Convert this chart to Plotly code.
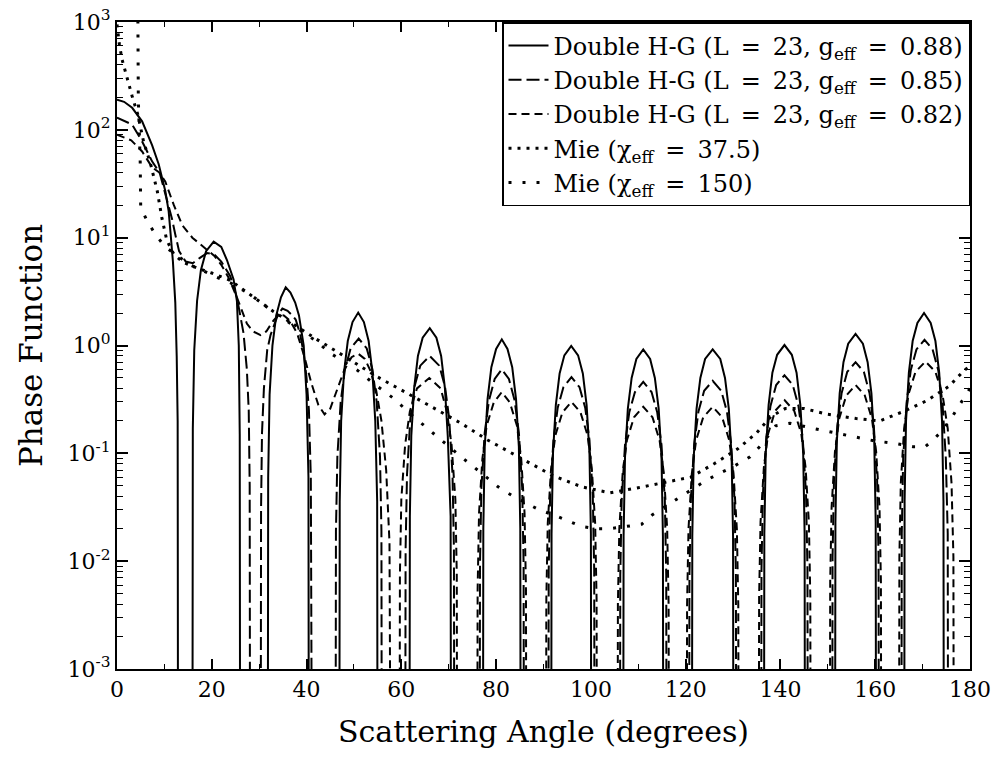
import plotly.graph_objects as go

Z = 1e-5  # value standing for a zero / negative value (below the axis range)

# ---- Double H-G, L = 23, g_eff = 0.88 (solid) ----
hg88_x = [0, 1.5, 3.2, 5.3, 7.4, 8.8, 10.2, 10.9, 11.3, 11.8, 12.3, 12.6, 12.8, 12.9,
          15.9, 16.0, 16.3, 16.9, 17.7, 18.8, 20.4, 22.0, 23.2, 24.6, 25.3, 25.7, 25.9, 26.0,
          31.8, 31.9, 32.2, 32.8, 33.6, 34.6, 35.6, 36.6, 37.6, 38.4, 39.4, 40.0, 40.4, 40.5,
          46.9, 47.0, 47.3, 47.9, 48.7, 49.7, 50.9, 52.1, 53.1, 53.9, 54.5, 54.9, 55.0,
          61.7, 61.8, 62.1, 62.7, 63.5, 64.5, 66.0, 67.4, 68.4, 69.2, 69.8, 70.4, 70.5,
          77.2, 77.3, 77.6, 78.2, 79.0, 80.0, 81.2, 82.4, 83.4, 84.2, 84.8, 85.1, 85.2,
          91.6, 91.7, 92.0, 92.6, 93.4, 94.4, 95.85, 97.3, 98.3, 99.1, 99.7, 100.0, 100.1,
          106.8, 106.9, 107.2, 107.8, 108.6, 109.6, 111.05, 112.5, 113.5, 114.3, 114.9, 115.2, 115.3,
          121.3, 121.4, 121.7, 122.3, 123.1, 124.1, 125.7, 127.3, 128.3, 129.1, 129.7, 130.0, 130.1,
          136.5, 136.6, 136.9, 137.5, 138.3, 139.3, 140.85, 142.4, 143.4, 144.2, 144.8, 145.1, 145.2,
          151.5, 151.6, 151.9, 152.5, 153.3, 154.3, 155.85, 157.4, 158.4, 159.2, 159.8, 160.1, 160.2,
          166.1, 166.2, 166.5, 167.1, 167.9, 168.9, 170.3, 171.7, 172.7, 173.5, 174.1, 174.4, 174.5]
hg88_y = [190, 182, 160, 120, 72, 48, 27, 17.6, 11, 6, 2.5, 0.8, 0.2, Z,
          Z, 0.17, 0.9, 2.6, 5.0, 7.5, 9.2, 8.2, 6.2, 4.1, 2.6, 1.0, 0.15, Z,
          Z, 0.06, 0.35, 1.0, 1.9, 2.8, 3.47, 3.1, 2.5, 1.9, 1.0, 0.35, 0.06, Z,
          Z, 0.036, 0.2, 0.56, 1.1, 1.65, 2.02, 1.65, 1.1, 0.56, 0.2, 0.036, Z,
          Z, 0.026, 0.145, 0.4, 0.8, 1.18, 1.45, 1.18, 0.8, 0.4, 0.145, 0.026, Z,
          Z, 0.02, 0.115, 0.32, 0.63, 0.93, 1.14, 0.93, 0.63, 0.32, 0.115, 0.02, Z,
          Z, 0.018, 0.1, 0.28, 0.55, 0.81, 0.99, 0.81, 0.55, 0.28, 0.1, 0.018, Z,
          Z, 0.017, 0.092, 0.26, 0.5, 0.75, 0.92, 0.75, 0.5, 0.26, 0.092, 0.017, Z,
          Z, 0.017, 0.092, 0.26, 0.5, 0.75, 0.92, 0.75, 0.5, 0.26, 0.092, 0.017, Z,
          Z, 0.018, 0.1, 0.28, 0.56, 0.82, 1.01, 0.82, 0.56, 0.28, 0.1, 0.018, Z,
          Z, 0.023, 0.128, 0.36, 0.7, 1.04, 1.28, 1.04, 0.7, 0.36, 0.128, 0.023, Z,
          Z, 0.036, 0.2, 0.56, 1.1, 1.62, 2.0, 1.62, 1.1, 0.56, 0.2, 0.036, Z]

# ---- Double H-G, L = 23, g_eff = 0.85 (long dash) ----
hg85_x = [0, 3.2, 5.3, 7.4, 9.0, 10.9, 11.6, 12.3, 13.1, 14.5, 16.0, 17.5, 19.0, 20.5, 22.0, 23.9, 25.3, 26.7, 27.4, 27.8, 28.0, 28.1,
          30.3, 30.4, 30.6, 31.0, 31.7, 32.4, 33.1, 34.0, 34.9, 36.0, 37.0, 37.7, 38.6, 39.4, 40.0, 40.5, 40.9, 41.2,
          46.1, 46.2, 46.5, 47.2, 48.1, 49.3, 51.0, 52.7, 53.9, 54.8, 55.5, 55.8, 55.9,
          60.8, 60.9, 61.2, 61.9, 62.8, 64.0, 66.0, 68.0, 69.2, 70.1, 70.8, 71.1, 71.2,
          76.5, 76.6, 76.9, 77.6, 78.5, 79.7, 81.2, 82.7, 83.9, 84.8, 85.5, 85.8, 85.9,
          91.0, 91.1, 91.4, 92.1, 93.0, 94.2, 95.9, 97.6, 98.8, 99.7, 100.4, 100.7, 100.8,
          106.1, 106.2, 106.5, 107.2, 108.1, 109.3, 111.05, 112.8, 114.0, 114.9, 115.6, 115.9, 116.0,
          120.7, 120.8, 121.1, 121.8, 122.7, 123.9, 125.7, 127.5, 128.7, 129.6, 130.3, 130.6, 130.7,
          135.9, 136.0, 136.3, 137.0, 137.9, 139.1, 140.85, 142.6, 143.8, 144.7, 145.4, 145.7, 145.8,
          150.9, 151.0, 151.3, 152.0, 152.9, 154.1, 155.85, 157.6, 158.8, 159.7, 160.4, 160.7, 160.8,
          165.5, 165.6, 165.9, 166.6, 167.5, 168.7, 170.4, 172.1, 173.3, 174.2, 174.9, 175.3, 175.4]
hg85_y = [130, 112, 78, 51, 40, 20, 15, 10.7, 7.5, 6.0, 5.8, 6.5, 7.2, 7.0, 6.0, 4.4, 2.8, 1.3, 0.6, 0.25, 0.05, Z,
          Z, 0.03, 0.155, 0.4, 0.91, 1.25, 1.55, 1.95, 2.2, 2.1, 1.9, 1.74, 1.3, 0.85, 0.5, 0.25, 0.06, Z,
          Z, 0.019, 0.093, 0.3, 0.6, 0.94, 1.16, 0.94, 0.6, 0.3, 0.093, 0.019, Z,
          Z, 0.013, 0.064, 0.21, 0.42, 0.65, 0.80, 0.65, 0.42, 0.21, 0.064, 0.013, Z,
          Z, 0.0096, 0.048, 0.156, 0.31, 0.49, 0.60, 0.49, 0.31, 0.156, 0.048, 0.0096, Z,
          Z, 0.0082, 0.041, 0.133, 0.265, 0.41, 0.51, 0.41, 0.265, 0.133, 0.041, 0.0082, Z,
          Z, 0.0074, 0.037, 0.12, 0.24, 0.37, 0.46, 0.37, 0.24, 0.12, 0.037, 0.0074, Z,
          Z, 0.0075, 0.038, 0.122, 0.245, 0.38, 0.47, 0.38, 0.245, 0.122, 0.038, 0.0075, Z,
          Z, 0.0085, 0.042, 0.138, 0.275, 0.43, 0.53, 0.43, 0.275, 0.138, 0.042, 0.0085, Z,
          Z, 0.011, 0.056, 0.18, 0.36, 0.57, 0.70, 0.57, 0.36, 0.18, 0.056, 0.011, Z,
          Z, 0.018, 0.09, 0.29, 0.59, 0.92, 1.13, 0.92, 0.59, 0.29, 0.09, 0.018, Z]

# ---- Double H-G, L = 23, g_eff = 0.82 (medium dash) ----
hg82_x = [0, 3.0, 5.3, 7.4, 9.0, 10.2, 12.0, 13.8, 15.9, 18.7, 20.5, 22.0, 23.5, 25.3, 27.4, 28.7, 30.3, 31.5, 33.0, 34.1, 35.2,
          36.5, 38.0, 39.5, 41.0, 42.5, 43.8, 45.0, 46.5, 48.0, 49.5, 50.9, 52.3, 53.5, 54.7, 55.8, 56.8, 57.5, 57.8,
          59.6, 59.7, 60.0, 60.8, 61.8, 63.3, 65.9, 68.3, 69.6, 70.6, 71.4, 71.7, 71.8,
          76.0, 76.1, 76.4, 77.1, 78.0, 79.5, 81.2, 82.9, 84.4, 85.3, 86.0, 86.3, 86.4,
          90.5, 90.6, 90.9, 91.6, 92.5, 94.0, 95.9, 97.8, 99.3, 100.2, 100.9, 101.2, 101.3,
          105.6, 105.7, 106.0, 106.7, 107.6, 109.1, 111.05, 113.0, 114.5, 115.4, 116.1, 116.4, 116.5,
          120.2, 120.3, 120.6, 121.3, 122.2, 123.7, 125.7, 127.7, 129.2, 130.1, 130.8, 131.1, 131.2,
          135.4, 135.5, 135.8, 136.5, 137.4, 138.9, 140.9, 142.9, 144.4, 145.3, 146.0, 146.3, 146.4,
          150.4, 150.5, 150.8, 151.5, 152.4, 153.9, 155.85, 157.8, 159.3, 160.2, 160.9, 161.2, 161.3,
          165.0, 165.1, 165.4, 166.1, 167.0, 168.5, 170.6, 172.7, 174.2, 175.3, 176.1, 176.5, 176.6]
hg82_y = [90, 80, 63, 45, 40, 33, 20, 13, 10, 8.0, 6.8, 5.6, 4.3, 2.8, 1.6, 1.35, 1.25, 1.35, 1.7, 1.92, 1.9,
          1.7, 1.3, 0.8, 0.45, 0.28, 0.23, 0.26, 0.4, 0.6, 0.78, 0.84, 0.75, 0.58, 0.38, 0.2, 0.07, 0.015, Z,
          Z, 0.0075, 0.0375, 0.12, 0.245, 0.4, 0.50, 0.4, 0.245, 0.12, 0.0375, 0.0075, Z,
          Z, 0.0055, 0.028, 0.089, 0.18, 0.296, 0.37, 0.296, 0.18, 0.089, 0.028, 0.0055, Z,
          Z, 0.0045, 0.0225, 0.072, 0.147, 0.24, 0.30, 0.24, 0.147, 0.072, 0.0225, 0.0045, Z,
          Z, 0.004, 0.02, 0.065, 0.132, 0.216, 0.27, 0.216, 0.132, 0.065, 0.02, 0.004, Z,
          Z, 0.004, 0.02, 0.065, 0.132, 0.216, 0.27, 0.216, 0.132, 0.065, 0.02, 0.004, Z,
          Z, 0.0047, 0.023, 0.074, 0.152, 0.248, 0.31, 0.248, 0.152, 0.074, 0.023, 0.0047, Z,
          Z, 0.0065, 0.032, 0.103, 0.21, 0.344, 0.43, 0.344, 0.21, 0.103, 0.032, 0.0065, Z,
          Z, 0.011, 0.053, 0.17, 0.35, 0.57, 0.71, 0.57, 0.35, 0.17, 0.053, 0.011, Z]

# ---- Mie, chi_eff = 37.5 (dense dots) ----
mie37_x = [0, 0.5, 1.06, 2.1, 3.2, 4.4, 5.6, 7.1, 8.5, 9.5, 10.5, 12, 14, 17, 20, 24, 28, 33, 38, 42, 46, 50, 55,
           61.3, 67.7, 72.6, 78.2, 83.9, 89.5, 92, 98, 104, 110, 115, 121, 126, 131, 135, 138, 141, 145, 150, 156,
           161, 166, 171, 175.6, 178.8, 180]
mie37_y = [950, 620, 450, 300, 205, 138, 78, 48, 27, 15, 9.5, 7.0, 5.9, 5.2, 4.7, 4.0, 3.0, 2.07, 1.5, 1.15, 0.9, 0.7, 0.51,
           0.36, 0.25, 0.19, 0.133, 0.097, 0.070, 0.062, 0.049, 0.043, 0.048, 0.053, 0.060, 0.08, 0.11, 0.155, 0.22, 0.26, 0.26, 0.23, 0.21,
           0.2, 0.245, 0.31, 0.42, 0.59, 0.64]

# ---- Mie, chi_eff = 150 (sparse dots) ----
mie150_x = [0, 4.2, 4.4, 4.5, 4.9, 5.0, 6.3, 8.1, 10.2, 12.6, 15.4, 18.3, 21, 24, 28, 33, 38, 42, 45, 50.7, 54, 58.5,
            62, 65.5, 69, 73, 77, 80.4, 83.2, 86, 89, 92, 95, 98, 101, 104, 107.5, 110.7, 113, 115.6, 118.4, 121.3,
            124, 127, 130, 133.6, 136, 139, 142, 147, 154, 160, 164, 168, 170.5, 172, 174, 176, 178.8, 180]
mie150_y = [10000, 5000, 1200, 190, 50, 19, 14.5, 10.7, 8.2, 6.9, 5.6, 4.9, 4.3, 3.8, 3.0, 2.05, 1.45, 1.1, 0.85, 0.59, 0.45, 0.32,
            0.23, 0.17, 0.125, 0.09, 0.065, 0.049, 0.041, 0.035, 0.030, 0.027, 0.024, 0.021, 0.020, 0.020, 0.021, 0.022, 0.027, 0.032, 0.038, 0.046,
            0.055, 0.065, 0.075, 0.093, 0.12, 0.18, 0.19, 0.17, 0.147, 0.13, 0.124, 0.115, 0.115, 0.13, 0.16, 0.21, 0.33, 0.4]

ES = "\u2002"  # en space, for the wide spacing around "=" in the legend
names = [f"Double H-G (L{ES}={ES}23, g<sub>eff</sub>{ES}={ES}0.88)",
         f"Double H-G (L{ES}={ES}23, g<sub>eff</sub>{ES}={ES}0.85)",
         f"Double H-G (L{ES}={ES}23, g<sub>eff</sub>{ES}={ES}0.82)",
         f"Mie (χ<sub>eff</sub>{ES}={ES}37.5)",
         f"Mie (χ<sub>eff</sub>{ES}={ES}150)"]

x_ticks = [0, 20, 40, 60, 80, 100, 120, 140, 160, 180]
y_ticks = [1e-3, 1e-2, 1e-1, 1e0, 1e1, 1e2, 1e3]
y_ticktext = ["10<sup>-3</sup>", "10<sup>-2</sup>", "10<sup>-1</sup>", "10<sup>0</sup>",
              "10<sup>1</sup>", "10<sup>2</sup>", "10<sup>3</sup>"]

FONT = "DejaVu Serif"
fig = go.Figure()
series = [(hg88_x, hg88_y, dict(color="black", width=2, dash="solid")),
          (hg85_x, hg85_y, dict(color="black", width=2, dash="13px,5px")),
          (hg82_x, hg82_y, dict(color="black", width=2, dash="8px,5px")),
          (mie37_x, mie37_y, dict(color="black", width=3, dash="3px,6px")),
          (mie150_x, mie150_y, dict(color="black", width=3, dash="3px,11px"))]
for (xs, ys, ln), nm in zip(series, names):
    fig.add_trace(go.Scatter(x=xs, y=ys, mode="lines", line=ln, name=nm))

fig.update_layout(
    width=996, height=760,
    margin=dict(l=117, r=26, t=22, b=91, autoexpand=False),
    paper_bgcolor="white", plot_bgcolor="white",
    font=dict(family=FONT, color="black", size=22),
    showlegend=True,
    legend=dict(x=1, y=1, xanchor="right", yanchor="top",
                bgcolor="white", bordercolor="black", borderwidth=1.5,
                font=dict(family=FONT, size=24, color="black"),
                tracegroupgap=0, itemwidth=40),
)
fig.update_xaxes(range=[0, 180], tickvals=x_ticks, ticks="inside", ticklen=10, tickwidth=1.5,
                 tickcolor="black", showline=True, linecolor="black", linewidth=2, mirror="allticks",
                 showgrid=False, zeroline=False, automargin=False,
                 minor=dict(ticks="inside", ticklen=5, tickwidth=1.2, tickcolor="black", dtick=10, showgrid=False),
                 tickfont=dict(family=FONT, size=22),
                 title=dict(text="Scattering Angle (degrees)", font=dict(family=FONT, size=30), standoff=20))
fig.update_yaxes(type="log", range=[-3, 3], tickvals=y_ticks, ticktext=y_ticktext, ticks="inside", ticklen=11,
                 tickwidth=1.5, tickcolor="black", showline=True, linecolor="black", linewidth=2,
                 mirror="allticks", showgrid=False, zeroline=False, automargin=False,
                 minor=dict(ticks="inside", ticklen=6, tickwidth=1.2, tickcolor="black", dtick="D1", showgrid=False),
                 tickfont=dict(family=FONT, size=22),
                 title=dict(text="Phase Function", font=dict(family=FONT, size=31), standoff=16))

fig.write_html("out.html")
